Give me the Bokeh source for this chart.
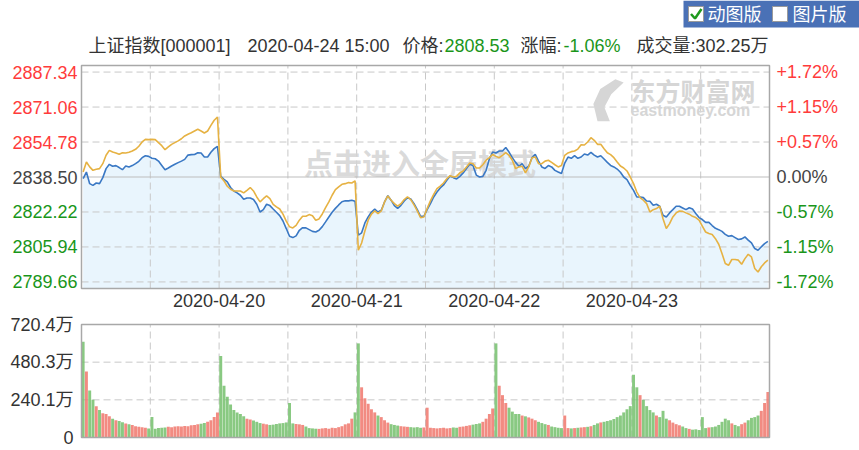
from bokeh.plotting import figure
from bokeh.models import Range1d, ColumnDataSource
from bokeh.core.properties import value
from bokeh.embed import file_html
from bokeh.resources import INLINE

# ---------------- data ----------------
date_labels = ["2020-04-20", "2020-04-21", "2020-04-22", "2020-04-23"]
date_ticks = [1, 2, 3, 4]
pre_close = 2838.50
price_ticks = [2789.66, 2805.94, 2822.22, 2838.50, 2854.78, 2871.06, 2887.34]
vol_ticks = [0, 240.1, 480.3, 720.4]

# index price (blue), sampled ~every 6 minutes, one list per trading day
price_d1 = [2837.7, 2840.8, 2835.4, 2834.6, 2835.7, 2835.4, 2838.2, 2842.4, 2844.4, 2843.5,
            2843.8, 2842.9, 2841.9, 2843.6, 2843.2, 2843.8, 2844.7, 2845.8, 2847.5, 2848.4,
            2848.1, 2847.2, 2847.0, 2845.9, 2843.9, 2841.9, 2842.7, 2843.6, 2844.4, 2845.2,
            2845.9, 2846.7, 2848.7, 2848.9, 2849.0, 2849.8, 2849.7, 2847.8, 2847.8, 2850.0,
            2851.7, 2852.8]
price_d2 = [2838.8, 2837.4, 2836.2, 2833.6, 2832.0, 2831.1, 2830.0, 2828.1, 2828.7, 2828.7,
            2828.0, 2825.8, 2822.2, 2823.3, 2825.8, 2825.2, 2823.6, 2822.1, 2820.5, 2818.0,
            2814.5, 2810.9, 2810.3, 2811.1, 2813.7, 2814.9, 2814.8, 2814.0, 2813.2, 2812.9,
            2813.7, 2815.4, 2817.6, 2819.9, 2822.1, 2823.9, 2825.5, 2827.0, 2827.4, 2827.4,
            2827.7, 2827.2]
price_d3 = [2811.4, 2812.5, 2817.1, 2819.9, 2822.2, 2823.5, 2822.2, 2823.0, 2826.9, 2829.8,
            2827.7, 2825.2, 2823.9, 2825.3, 2827.3, 2828.9, 2828.3, 2826.1, 2823.3, 2820.2,
            2820.2, 2823.3, 2826.1, 2829.2, 2831.5, 2833.4, 2834.8, 2837.0, 2839.0, 2838.2,
            2837.6, 2838.8, 2840.4, 2842.4, 2844.4, 2843.8, 2839.4, 2838.5, 2838.8, 2841.6,
            2847.0, 2850.1]
price_d4 = [2849.7, 2850.6, 2850.6, 2852.2, 2850.1, 2847.5, 2845.3, 2843.5, 2844.7, 2842.4,
            2843.5, 2847.5, 2849.0, 2845.9, 2843.2, 2842.5, 2843.8, 2843.2, 2841.6, 2840.8,
            2840.1, 2845.0, 2847.8, 2847.2, 2848.4, 2847.2, 2847.8, 2849.2, 2848.7, 2850.0,
            2848.7, 2847.8, 2848.4, 2846.9, 2845.3, 2843.9, 2843.2, 2842.2, 2840.7, 2838.5,
            2837.3, 2834.6]
price_d5 = [2832.3, 2829.2, 2829.2, 2828.9, 2827.3, 2827.2, 2825.3, 2825.8, 2824.9, 2820.7,
            2819.9, 2821.8, 2823.3, 2824.9, 2824.9, 2824.1, 2823.3, 2824.2, 2823.6, 2821.5,
            2819.6, 2818.7, 2817.4, 2817.4, 2815.9, 2814.6, 2814.0, 2813.2, 2811.8, 2810.9,
            2811.2, 2810.3, 2809.4, 2809.7, 2810.6, 2809.1, 2807.8, 2805.2, 2804.4, 2806.0,
            2807.5, 2808.5]

# second (yellow) line
lead_d1 = [2840.8, 2845.5, 2843.2, 2841.6, 2842.1, 2842.4, 2844.7, 2848.6, 2850.9, 2850.1,
           2849.7, 2849.1, 2849.8, 2849.7, 2850.0, 2850.6, 2851.4, 2852.8, 2854.8, 2856.0,
           2855.9, 2856.0, 2855.9, 2854.5, 2853.1, 2851.2, 2852.5, 2853.7, 2854.5, 2855.3,
           2856.3, 2857.6, 2858.4, 2859.1, 2859.9, 2860.7, 2859.9, 2859.0, 2859.9, 2862.5,
           2864.9, 2866.4]
lead_d2 = [2838.5, 2836.7, 2834.2, 2832.8, 2832.0, 2832.0, 2832.0, 2831.1, 2832.3, 2833.6,
           2832.0, 2829.2, 2826.9, 2828.4, 2829.7, 2828.4, 2825.8, 2824.6, 2823.6, 2821.2,
           2818.0, 2815.3, 2814.8, 2816.0, 2818.4, 2820.2, 2820.2, 2821.0, 2820.5, 2818.4,
           2819.0, 2821.3, 2824.2, 2826.9, 2830.0, 2832.6, 2833.9, 2835.1, 2835.4, 2835.9,
           2835.7, 2836.7]
lead_d3 = [2804.4, 2807.8, 2813.4, 2818.4, 2821.2, 2822.7, 2821.5, 2822.7, 2826.9, 2829.7,
           2827.7, 2826.1, 2824.9, 2826.1, 2828.0, 2829.2, 2828.0, 2825.5, 2822.7, 2819.6,
           2819.9, 2823.8, 2827.4, 2830.4, 2833.1, 2834.3, 2835.7, 2837.7, 2839.1, 2838.5,
           2838.8, 2840.4, 2841.3, 2843.2, 2845.0, 2844.7, 2842.7, 2842.7, 2844.2, 2846.3,
           2847.5, 2849.0]
lead_d4 = [2848.1, 2847.5, 2848.6, 2849.8, 2848.6, 2846.3, 2842.4, 2843.2, 2843.5, 2840.4,
           2843.2, 2847.5, 2847.8, 2844.7, 2844.7, 2845.9, 2846.3, 2845.3, 2844.2, 2843.2,
           2843.9, 2848.6, 2849.7, 2850.3, 2850.6, 2851.5, 2853.5, 2853.4, 2854.8, 2856.8,
           2855.6, 2853.7, 2853.7, 2851.7, 2849.8, 2848.9, 2847.5, 2845.5, 2843.6, 2842.7,
           2841.3, 2838.5]
lead_d5 = [2835.4, 2831.5, 2828.9, 2827.7, 2826.1, 2822.2, 2823.3, 2823.8, 2824.9, 2819.1,
           2814.5, 2816.8, 2819.9, 2821.8, 2822.7, 2822.5, 2821.8, 2821.2, 2820.2, 2819.6,
           2818.4, 2815.6, 2812.9, 2812.2, 2811.7, 2809.8, 2807.2, 2802.9, 2798.2, 2797.4,
           2800.1, 2800.1, 2799.8, 2797.9, 2800.5, 2802.5, 2801.3, 2795.9, 2794.3, 2796.7,
           2798.5, 2799.8]

# volume (万手)
vol_d1 = [610, 420, 300, 240, 200, 175, 155, 150, 135, 120, 110, 105, 98, 90, 84, 80, 72, 68,
          66, 62, 58, 130, 55, 60, 62, 64, 68, 66, 70, 72, 70, 74, 72, 78, 80, 84, 88, 92, 100,
          110, 130, 160]
vol_d2 = [520, 330, 260, 210, 175, 160, 150, 135, 120, 115, 108, 100, 92, 88, 84, 80, 82, 86,
          90, 92, 96, 220, 90, 86, 84, 80, 70, 60, 58, 56, 55, 58, 60, 56, 62, 60, 66, 72, 84,
          90, 120, 160]
vol_d3 = [600, 320, 250, 215, 180, 160, 140, 130, 110, 95, 85, 80, 76, 72, 70, 68, 66, 64, 66,
          62, 64, 190, 62, 60, 58, 60, 62, 58, 60, 64, 62, 68, 70, 74, 78, 82, 86, 90, 100, 120,
          150, 185]
vol_d4 = [600, 330, 270, 220, 190, 165, 150, 150, 140, 135, 128, 120, 110, 100, 92, 85, 80, 70,
          66, 62, 60, 140, 60, 58, 60, 62, 64, 66, 68, 72, 80, 90, 96, 100, 105, 110, 118, 130,
          140, 160, 180, 200]
vol_d5 = [400, 320, 270, 240, 200, 175, 160, 140, 130, 170, 120, 110, 95, 85, 78, 70, 60, 55,
          50, 52, 48, 130, 60, 64, 66, 70, 80, 100, 120, 110, 90, 80, 72, 85, 95, 110, 125, 130,
          140, 170, 220, 290]

price_days = [price_d1, price_d2, price_d3, price_d4, price_d5]
lead_days = [lead_d1, lead_d2, lead_d3, lead_d4, lead_d5]
vol_days = [vol_d1, vol_d2, vol_d3, vol_d4, vol_d5]

title_texts = ["上证指数[000001]", "2020-04-24 15:00", "价格:", "2808.53", "涨幅:", "-1.06%",
               "成交量:302.25万"]
button_texts = ["动图版", "图片版"]

# ---------------- layout & style ----------------
FONT = "Liberation Sans, Noto Sans CJK SC"
RED = "#ff3b3b"
GREEN = "#1a961a"
GRAY = "#444444"
TXT = "#333333"
GRID = "#c8c8c8"
W, H = 859, 450
PL, PR = 81, 769          # chart frames, left/right (px)
PT, PB = 65, 288          # price frame top/bottom (px)
VT, VB = 324, 437         # volume frame top/bottom (px)
N_DAYS = len(price_days)
Y0, Y1 = 2786.6, 2890.4   # visible price range
VMAX = vol_ticks[-1]

xs, price, lead, vols, vcolors = [], [], [], [], []
prev = pre_close
for d in range(N_DAYS):
    pd_, ld_, vd_ = price_days[d], lead_days[d], vol_days[d]
    n = min(len(pd_), len(ld_), len(vd_))
    for i in range(n):
        xs.append(d + (i + 0.5) / n)
        price.append(pd_[i])
        lead.append(ld_[i])
        vols.append(vd_[i])
        vcolors.append("#f0776c" if pd_[i] >= prev else "#74bf6c")
        prev = pd_[i]

src = ColumnDataSource(dict(x=xs, price=price, lead=lead, vol=vols, vc=vcolors,
                            base=[Y0] * len(xs)))

# one canvas; base ranges are page pixels, extra ranges place the two chart frames
p = figure(width=W, height=H, x_range=Range1d(0, W), y_range=Range1d(H, 0),
           x_axis_location=None, y_axis_location=None, min_border=0,
           output_backend="svg", toolbar_location=None, outline_line_color=None)
p.grid.visible = False

dpx = N_DAYS / (PR - PL)
p.extra_x_ranges = {"day": Range1d(-PL * dpx, N_DAYS + (W - PR) * dpx)}
kp = (Y1 - Y0) / (PB - PT)
kv = VMAX / (VB - VT)
p.extra_y_ranges = {
    "price": Range1d(Y0 - (H - PB) * kp, Y1 + PT * kp),
    "vol": Range1d(-(H - VB) * kv, VMAX + VT * kv),
}
PX = dict(x_range_name="day", y_range_name="price")
VX = dict(x_range_name="day", y_range_name="vol")

half_days = [k / 2 for k in range(1, 2 * N_DAYS)]

# ---- header: button + title ----
p.quad(left=[683], right=[W], top=[0], bottom=[27], fill_color="#4a71b6", line_color=None)
p.quad(left=[688, 772], right=[703, 787], top=[6, 6], bottom=[21, 21],
       fill_color="white", line_color="#9a9a9a", line_width=1)
p.line(x=[690.5, 694.5, 701], y=[13.5, 18, 8.5], line_color="#1f9a1f", line_width=2.5)
p.text(x=[707, 792], y=[14, 14], text=button_texts, text_color="white",
       text_font=value(FONT), text_font_size="18px", text_baseline="middle")

title_x = [88, 247, 402, 444, 520, 563, 636]
title_c = [TXT, TXT, TXT, GREEN, TXT, GREEN, TXT]
p.text(x=title_x, y=[45] * len(title_x), text=title_texts, text_color=title_c,
       text_font=value(FONT), text_font_size="18px", text_baseline="middle")

# ---- price panel ----
p.varea(x="x", y1="base", y2="price", source=src, fill_color="#e9f5fd", **PX)

other_ticks = [t for t in price_ticks if t != pre_close]
p.segment(x0=[0] * len(other_ticks), x1=[N_DAYS] * len(other_ticks), y0=other_ticks,
          y1=other_ticks, line_color=GRID, line_dash="7 4", line_width=1, **PX)
p.segment(x0=half_days, x1=half_days, y0=[Y0] * len(half_days), y1=[Y1] * len(half_days),
          line_color=GRID, line_dash="7 4", line_width=1, **PX)

# watermarks
p.text(x=[2.46], y=[2844.0], text=["点击进入全屏模式"], text_color="#d4d4d4", text_alpha=0.85,
       text_font=value(FONT), text_font_size="29px", text_font_style="bold",
       text_align="center", text_baseline="middle", **PX)
p.text(x=[3.99], y=[2878.0], text=["东方财富网"], text_color="#d6d6d6",
       text_font=value(FONT), text_font_size="25px", text_font_style="bold",
       text_baseline="middle", **PX)
p.text(x=[3.99], y=[2869.6], text=["eastmoney.com"], text_color="#d6d6d6",
       text_font=value(FONT), text_font_size="16px", text_font_style="bold",
       text_baseline="middle", **PX)
p.patch(x=[3.75, 3.72, 3.77, 3.88, 3.94, 3.85, 3.80, 3.84],
        y=[2864.5, 2872.5, 2879.5, 2884.0, 2882.5, 2877.0, 2871.0, 2864.5],
        fill_color="#d6d6d6", line_color=None, **PX)

p.segment(x0=[0], x1=[N_DAYS], y0=[pre_close], y1=[pre_close], line_color="#bdbdbd",
          line_width=1, **PX)

p.line(x="x", y="price", source=src, line_color="#3a78c4", line_width=1.6, **PX)
p.line(x="x", y="lead", source=src, line_color="#e6b243", line_width=1.6, **PX)

p.quad(left=[0], right=[N_DAYS], bottom=[Y0], top=[Y1], fill_color=None,
       line_color="#a8a8a8", line_width=1.5, **PX)


def pct_text(t):
    r = (t - pre_close) / pre_close * 100
    return "0.00%" if abs(r) < 0.005 else f"{r:+.2f}%"


def tick_color(t):
    if abs(t - pre_close) < 1e-6:
        return GRAY
    return RED if t > pre_close else GREEN


tick_c = [tick_color(t) for t in price_ticks]
p.text(x=[PL - 4] * len(price_ticks), y=price_ticks, text=[f"{t:.2f}" for t in price_ticks],
       text_color=tick_c, text_align="right", text_baseline="middle",
       text_font=value(FONT), text_font_size="18px", y_range_name="price")
p.text(x=[PR + 7] * len(price_ticks), y=price_ticks, text=[pct_text(t) for t in price_ticks],
       text_color=tick_c, text_align="left", text_baseline="middle",
       text_font=value(FONT), text_font_size="18px", y_range_name="price")

# date labels under the price frame
p.text(x=date_ticks, y=[PB + 12] * len(date_ticks), text=date_labels, text_color=TXT,
       text_align="center", text_baseline="middle", text_font=value(FONT),
       text_font_size="18px", x_range_name="day")

# ---- volume panel ----
grid_v = [t for t in vol_ticks if 0 < t < VMAX]
p.segment(x0=[0] * len(grid_v), x1=[N_DAYS] * len(grid_v), y0=grid_v, y1=grid_v,
          line_color=GRID, line_dash="7 4", line_width=1, **VX)
p.segment(x0=half_days, x1=half_days, y0=[0] * len(half_days), y1=[VMAX] * len(half_days),
          line_color=GRID, line_dash="7 4", line_width=1, **VX)

p.vbar(x="x", top="vol", width=0.9 / len(price_d1), source=src, fill_color="vc",
       line_color=None, fill_alpha=0.85, **VX)

p.quad(left=[0], right=[N_DAYS], bottom=[0], top=[VMAX], fill_color=None,
       line_color="#a8a8a8", line_width=1.5, **VX)

p.text(x=[PL - 8] * len(vol_ticks), y=vol_ticks,
       text=[("0" if t == 0 else f"{t:.1f}万") for t in vol_ticks], text_color=TXT,
       text_align="right", text_baseline="middle", text_font=value(FONT),
       text_font_size="18px", y_range_name="vol")

open("out.html", "w").write(file_html(p, INLINE, title="上证指数"))
